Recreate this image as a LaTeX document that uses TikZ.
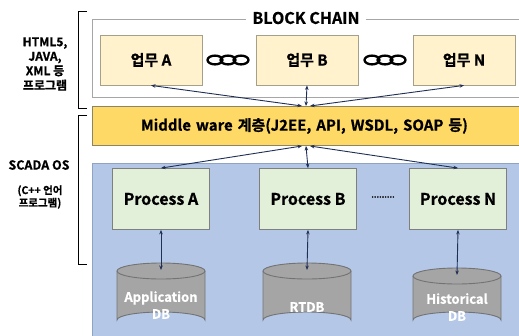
\documentclass[tikz,border=0pt]{standalone}
\usepackage{fontspec}
\setmainfont{Noto Sans CJK KR}[BoldFont={Noto Sans CJK KR Bold}, BoldFeatures={FakeBold=0.8}]
\usetikzlibrary{arrows.meta}
\definecolor{frameGray}{HTML}{A6A6A6}
\definecolor{taskFill}{HTML}{FFF2CC}
\definecolor{taskLine}{HTML}{A5A08A}
\definecolor{midFill}{HTML}{FFD966}
\definecolor{midLine}{HTML}{8C8468}
\definecolor{osFill}{HTML}{B4C7E7}
\definecolor{osLine}{HTML}{8FA3C4}
\definecolor{procFill}{HTML}{E2F0D9}
\definecolor{procLine}{HTML}{7F7F7F}
\definecolor{dbFill}{HTML}{A5A5A5}
\definecolor{dbLine}{HTML}{737373}
\definecolor{link}{HTML}{1F2F55}
\tikzset{
  taskbox/.style={draw=taskLine, fill=taskFill, line width=0.8pt, minimum width=102pt, minimum height=50pt, font=\bfseries\fontsize{15}{17}\selectfont},
  procbox/.style={draw=procLine, fill=procFill, line width=0.8pt, minimum width=97pt, minimum height=61pt, font=\bfseries\fontsize{16}{18}\selectfont},
  dblabel/.style={text=white, align=center, font=\bfseries\fontsize{13}{17}\selectfont},
  sidetext/.style={align=center, font=\bfseries\fontsize{12}{14.5}\selectfont},
  biarrow/.style={link, line width=0.9pt, {Stealth[length=4.5pt,width=3.5pt]}-{Stealth[length=4.5pt,width=3.5pt]}},
  chainlink/.style={line width=2.3pt, black},
}
% database drum: #1 centre x, #2 top y, #3 bottom y, #4 half width
\newcommand{\dbdrum}[4]{%
  \fill[dbFill] (#1-#4,#2+8) arc[start angle=180,end angle=360,x radius=#4,y radius=8]
     -- (#1+#4,#3-8) arc[start angle=0,end angle=-180,x radius=#4,y radius=8] -- cycle;
  \draw[dbLine, line width=0.9pt] (#1-#4,#2+8) -- (#1-#4,#3-8)
     arc[start angle=180,end angle=360,x radius=#4,y radius=8] -- (#1+#4,#2+8);
  \draw[dbLine, line width=0.9pt, fill=dbFill] (#1,#2+8) ellipse[x radius=#4, y radius=8];
}
\newcommand{\chainsym}[2]{%
  \foreach \dx in {-13,0,13}
    \draw[chainlink] (#1+\dx,#2) ellipse[x radius=7.5, y radius=4.4];
}
\begin{document}
\begin{tikzpicture}[x=1pt,y=-1pt]
\useasboundingbox (0,0) rectangle (519,335);
\fill[white] (0,0) rectangle (519,335);

% block-chain frame
\draw[frameGray, line width=0.8pt] (92,19) rectangle (530,97);
\node[fill=white, inner xsep=6pt, font=\bfseries\fontsize{16}{18}\selectfont] (bc) at (306,18) {BLOCK CHAIN};

% tasks
\node[taskbox] (ta) at (151,60) {업무 A};
\node[taskbox] (tb) at (307,60) {업무 B};
\node[taskbox] (tn) at (464,60) {업무 N};
\chainsym{228}{60}
\chainsym{385}{60}

% middleware layer
\node[draw=midLine, fill=midFill, line width=0.8pt, minimum width=440pt, minimum height=39pt, anchor=west, font=\bfseries\fontsize{15}{17}\selectfont, text width=427pt, align=left] (mw) at (92,126)
  {\hspace*{42pt}Middle ware 계층(J2EE, API, WSDL, SOAP 등)};
\coordinate (mwtop) at (306,106);
\coordinate (mwbot) at (306,146);

% SCADA OS region
\draw[osLine, fill=osFill, line width=0.8pt] (92,163) rectangle (530,340);

% processes
\node[procbox] (pa) at (161,199) {Process A};
\node[procbox] (pb) at (308,199) {Process B};
\node[procbox] (pn) at (458,199) {Process N};
\node[font=\bfseries\fontsize{8}{9}\selectfont] (dots) at (383,197) {.........};

% databases
\dbdrum{161}{263}{328}{44}
\dbdrum{307}{263}{328}{44}
\dbdrum{457}{268}{328}{44}
\node[dblabel] (da) at (161,305) {Application\\DB};
\node[dblabel] (db) at (307,307) {RTDB};
\node[dblabel] (dn) at (457,307) {Historical\\DB};
\coordinate (datop) at (161,270);
\coordinate (dbtop) at (307,270);
\coordinate (dntop) at (457,275);

% links
\draw[biarrow] (ta.south) -- ([xshift=-4pt]mwtop);
\draw[biarrow] (tb.south) -- (mwtop);
\draw[biarrow] (tn.south) -- ([xshift=4pt]mwtop);
\draw[biarrow] (pa.north) -- ([xshift=-4pt]mwbot);
\draw[biarrow] (pb.north) -- (mwbot);
\draw[biarrow] (pn.north) -- ([xshift=4pt]mwbot);
\draw[biarrow] (pa.south) -- (datop);
\draw[biarrow] (pb.south) -- (dbtop);
\draw[biarrow] (pn.south) -- (dntop);

% side brackets and captions
\draw[black, line width=0.9pt] (87,11) -- (78,11) -- (78,108) -- (87,108);
\draw[black, line width=0.9pt] (87,115) -- (78,115) -- (78,264) -- (87,264);
\node[sidetext] (web) at (45,64) {HTML5,\\JAVA,\\XML 등\\프로그램};
\node[sidetext, font=\bfseries\fontsize{12.5}{15}\selectfont] (os) at (39,165) {SCADA OS};
\node[sidetext, font=\bfseries\fontsize{10.5}{12.5}\selectfont] (cpp) at (40,197) {(C++ 언어\\프로그램)};
\end{tikzpicture}
\end{document}
